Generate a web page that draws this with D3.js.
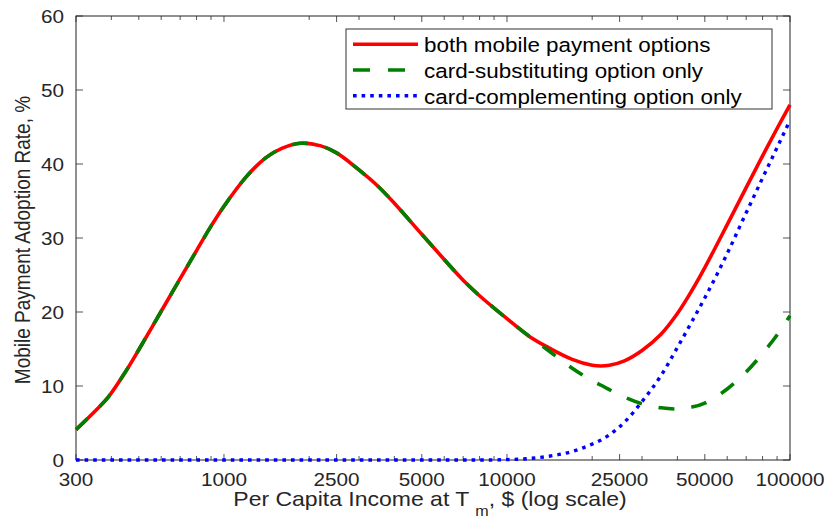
<!DOCTYPE html>
<html>
<head>
<meta charset="utf-8">
<script src="https://cdn.jsdelivr.net/npm/d3@7"></script>
<style>
  html, body { margin: 0; padding: 0; background: #fff; }
  svg { display: block; }
  text { font-family: "Liberation Sans", Arial, Helvetica, sans-serif; fill: #262626; }
</style>
</head>
<body>
<svg id="chart" width="828" height="519"></svg>
<script>
// ---------- data ----------
const incomes = [300,350,390,450,500,600,700,800,900,1000,1200,1400,1600,1860,2200,2500,3000,3500,4000,5000,6000,7000,8000,10000,12000,14000,17000,20000,21500,23000,26000,30000,35000,40000,45000,50000,60000,70000,80000,90000,100000];
const bothRate = [4.1,6.6,8.5,12.0,14.9,20.1,24.5,28.3,31.6,34.3,38.3,40.8,42.1,42.8,42.45,41.5,39.2,37.0,34.7,30.5,27.1,24.3,22.2,19.1,16.7,15.2,13.6,12.8,12.7,12.8,13.4,14.8,17.0,19.8,22.9,26.0,31.8,36.8,41.1,44.8,48.0];
const substRate = [4.1,6.6,8.5,12.0,14.9,20.1,24.5,28.3,31.6,34.3,38.3,40.8,42.1,42.8,42.45,41.5,39.2,37.0,34.7,30.5,27.1,24.3,22.2,19.1,16.7,14.8,12.4,10.7,10.1,9.5,8.5,7.6,7.05,6.9,7.15,7.7,9.6,11.9,14.4,16.9,19.5];
const complRate = [0,0,0,0,0,0,0,0,0,0,0,0,0,0,0,0,0,0,0,0,0,0,0,0.05,0.2,0.5,1.15,2.15,2.7,3.4,5.1,7.9,11.4,15.2,18.7,21.9,27.9,33.4,38.1,42.2,45.9];
const xTickValues = [300,1000,2500,5000,10000,25000,50000,100000];
const xTickLabels = ["300","1000","2500","5000","10000","25000","50000","100000"];
const xMinorTicks = [400,500,600,700,800,900,2000,3000,4000,6000,7000,8000,9000,20000,30000,40000,60000,70000,80000,90000];
const yTickValues = [0,10,20,30,40,50,60];
const seriesNames = ["both mobile payment options","card-substituting option only","card-complementing option only"];

// ---------- layout ----------
const L = 76, R = 790, T = 16, B = 460;
const SX = 1.15; // horizontal text stretch
const svg = d3.select("#chart");
const x = d3.scaleLog().domain([300, 100000]).range([L, R]);
const y = d3.scaleLinear().domain([0, 60]).range([B, T]);

// ---------- series ----------
const line = (vals, curve) => d3.line()
  .x((d, i) => x(incomes[i]))
  .y(d => y(d))
  .curve(curve)(vals);

const g = svg.append("g");
g.append("path").attr("d", line(bothRate, d3.curveCatmullRom.alpha(0.5)))
  .attr("fill", "none").attr("stroke", "#ff0000").attr("stroke-width", 3.6);
g.append("path").attr("d", line(substRate, d3.curveCatmullRom.alpha(0.5)))
  .attr("fill", "none").attr("stroke", "#008000").attr("stroke-width", 3.6)
  .attr("stroke-dasharray", "16,17");

// ---------- axes box + ticks ----------
const ax = svg.append("g");
const tickColor = "#555";
xTickValues.forEach(v => {
  ax.append("line").attr("x1", x(v)).attr("x2", x(v)).attr("y1", B).attr("y2", B - 6).attr("stroke", tickColor);
  ax.append("line").attr("x1", x(v)).attr("x2", x(v)).attr("y1", T).attr("y2", T + 6).attr("stroke", tickColor);
});
xMinorTicks.forEach(v => {
  ax.append("line").attr("x1", x(v)).attr("x2", x(v)).attr("y1", B).attr("y2", B - 4).attr("stroke", tickColor);
  ax.append("line").attr("x1", x(v)).attr("x2", x(v)).attr("y1", T).attr("y2", T + 4).attr("stroke", tickColor);
});
yTickValues.forEach(v => {
  ax.append("line").attr("x1", L).attr("x2", L + 7).attr("y1", y(v)).attr("y2", y(v)).attr("stroke", tickColor);
  ax.append("line").attr("x1", R).attr("x2", R - 7).attr("y1", y(v)).attr("y2", y(v)).attr("stroke", tickColor);
});
ax.append("rect").attr("x", L).attr("y", T).attr("width", R - L).attr("height", B - T)
  .attr("fill", "none").attr("stroke", "#222").attr("stroke-width", 1);

g.raise();
svg.append("path").attr("d", line(complRate, d3.curveMonotoneX))
  .attr("fill", "none").attr("stroke", "#0000ff").attr("stroke-width", 3.4)
  .attr("stroke-dasharray", "3.6,5");

// ---------- tick labels ----------
xTickValues.forEach((v, i) => {
  svg.append("text").attr("transform", `translate(${x(v)},485.5) scale(${SX},1)`)
    .attr("text-anchor", "middle").style("font-size", "18px").text(xTickLabels[i]);
});
yTickValues.forEach(v => {
  svg.append("text").attr("transform", `translate(64,${y(v) + 6.5}) scale(${SX},1)`)
    .attr("text-anchor", "end").style("font-size", "18px").text(v);
});

// ---------- axis titles ----------
const xt = svg.append("text").attr("transform", `translate(430,506) scale(${SX},1)`)
  .attr("text-anchor", "middle").style("font-size", "20px");
xt.append("tspan").text("Per Capita Income at T ");
xt.append("tspan").attr("dy", 10).style("font-size", "14px").text("m");
xt.append("tspan").attr("dy", -10).text(", $ (log scale)");

svg.append("text").attr("transform", `translate(29.5,240) rotate(-90) scale(1,${SX})`)
  .attr("text-anchor", "middle").style("font-size", "19px").text("Mobile Payment Adoption Rate, %");

// ---------- legend ----------
const lg = svg.append("g");
lg.append("rect").attr("x", 346).attr("y", 29).attr("width", 426).attr("height", 80)
  .attr("fill", "#fff").attr("stroke", "#333").attr("stroke-width", 1);
const legStyles = [
  {c: "#ff0000", dash: null, w: 3.6},
  {c: "#008000", dash: "17,18", w: 3.6},
  {c: "#0000ff", dash: "3.6,5", w: 3.4}
];
seriesNames.forEach((name, i) => {
  const by = 52.3 + i * 25.7;
  const ln = lg.append("line").attr("x1", 353).attr("x2", 418).attr("y1", by - 8).attr("y2", by - 8)
    .attr("stroke", legStyles[i].c).attr("stroke-width", legStyles[i].w);
  if (legStyles[i].dash) ln.attr("stroke-dasharray", legStyles[i].dash);
  lg.append("text").attr("transform", `translate(424,${by}) scale(${SX},1)`)
    .style("font-size", "19.5px").style("fill", "#000").text(name);
});
</script>
</body>
</html>
